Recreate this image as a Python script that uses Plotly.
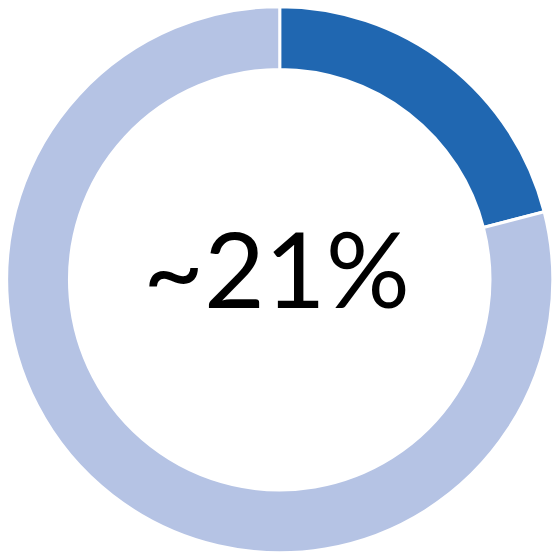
import plotly.graph_objects as go

# share shown in the donut
labels = ["Share", "Rest"]
values = [21, 79]
colors = ["#2067B1", "#B5C3E4"]
center_text = "~21%"

fig = go.Figure(go.Pie(
    labels=labels,
    values=values,
    hole=0.77,
    sort=False,
    direction="clockwise",
    rotation=0,
    textinfo="none",
    hoverinfo="label+percent",
    marker=dict(colors=colors, line=dict(color="white", width=3)),
    domain=dict(x=[0.012, 0.996], y=[0.004, 0.988]),
))

fig.add_annotation(text=center_text, x=0.499, y=0.519, xref="paper", yref="paper",
                   showarrow=False, font=dict(family="Lato", size=105, color="black"))

fig.update_layout(width=555, height=555, margin=dict(l=0, r=0, t=0, b=0),
                  showlegend=False, paper_bgcolor="white")

# drop the default page margin so the figure sits at the window corner
fig.write_html("out.html", config={"displayModeBar": False},
               post_script="document.body.style.margin='0';")
